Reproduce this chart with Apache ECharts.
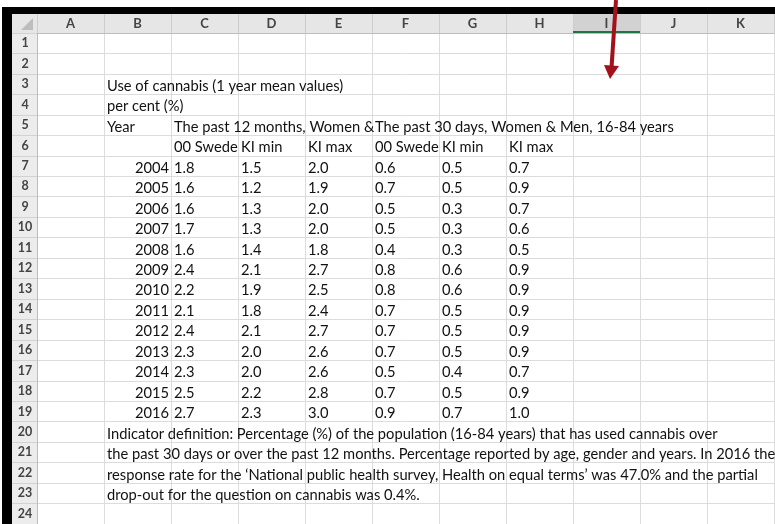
<!DOCTYPE html>
<html>
<head>
<meta charset="utf-8">
<script src="https://cdn.jsdelivr.net/npm/echarts@6/dist/echarts.min.js"></script>
<style>html,body{margin:0;padding:0;background:#fff;}#c{width:775px;height:524px;}</style>
</head>
<body>
<div id="c"></div>
<script>
// ---- data ----
const columnLetters = ['A','B','C','D','E','F','G','H','I','J','K'];
const rowNumbers = ['1','2','3','4','5','6','7','8','9','10','11','12','13','14','15','16','17','18','19','20','21','22','23','24'];
const titleText = 'Use of cannabis (1 year mean values)';
const unitText = 'per cent (%)';
const yearHeader = 'Year';
const group12 = 'The past 12 months, Women & Men, 16-84 years';
const group30 = 'The past 30 days, Women & Men, 16-84 years';
const subHeaders = ['00 Sweden','KI min','KI max','00 Sweden','KI min','KI max'];
const years = [2004,2005,2006,2007,2008,2009,2010,2011,2012,2013,2014,2015,2016];
const past12 =    ['1.8','1.6','1.6','1.7','1.6','2.4','2.2','2.1','2.4','2.3','2.3','2.5','2.7'];
const past12Min = ['1.5','1.2','1.3','1.3','1.4','2.1','1.9','1.8','2.1','2.0','2.0','2.2','2.3'];
const past12Max = ['2.0','1.9','2.0','2.0','1.8','2.7','2.5','2.4','2.7','2.6','2.6','2.8','3.0'];
const past30 =    ['0.6','0.7','0.5','0.5','0.4','0.8','0.8','0.7','0.7','0.7','0.5','0.7','0.9'];
const past30Min = ['0.5','0.5','0.3','0.3','0.3','0.6','0.6','0.5','0.5','0.5','0.4','0.5','0.7'];
const past30Max = ['0.7','0.9','0.7','0.6','0.5','0.9','0.9','0.9','0.9','0.9','0.7','0.9','1.0'];
const noteLines = [
  'Indicator definition: Percentage (%) of the population (16-84 years) that has used cannabis over',
  'the past 30 days or over the past 12 months. Percentage reported by age, gender and years. In 2016 the',
  'response rate for the \u2018National public health survey, Health on equal terms\u2019 was 47.0% and the partial',
  'drop-out for the question on cannabis was 0.4%.'
];

// ---- build cells (col index, row index) ----
const FONT = 'Lato, "Open Sans", sans-serif';
const cells = [];
function put(col, row, text, align, clipCols) { cells.push({col, row, text: String(text), align: align || 'left', clip: clipCols || 0}); }
put(1, 2, titleText);
put(1, 3, unitText);
put(1, 4, yearHeader);
put(2, 4, group12, 'left', 3);
put(5, 4, group30);
subHeaders.forEach((h, i) => put(2 + i, 5, h, 'left', i === 0 || i === 3 ? 1 : 0));
const valueCols = [past12, past12Min, past12Max, past30, past30Min, past30Max];
years.forEach((y, r) => {
  put(1, 6 + r, y, 'right');
  valueCols.forEach((arr, k) => put(2 + k, 6 + r, arr[r]));
});
noteLines.forEach((t, i) => put(1, 19 + i, t));

// measure to fit Calibri-like width
const cv = document.createElement('canvas').getContext('2d');
cv.font = '14px Lato';
const w14 = cv.measureText(noteLines[0]).width;
const FS = Math.round(14 * 610 / w14 * 10) / 10;

const chart = echarts.init(document.getElementById('c'), null, {renderer: 'canvas'});
const GRID = {left: 37, top: 33, width: 737, height: 499.2};

function renderCell(params, api) {
  const cell = cells[params.dataIndex];
  const c = api.coord([api.value(0), api.value(1)]);
  const sz = api.size([1, 1]);
  const left = c[0] - sz[0] / 2;
  const x = cell.align === 'right' ? left + sz[0] - 2 : left + 3;
  const style = {
    text: cell.text, fill: '#111111', fontFamily: FONT, fontSize: FS,
    align: cell.align, verticalAlign: 'middle'
  };
  if (cell.clip) { style.width = sz[0] * cell.clip + 2; style.overflow = 'truncate'; style.ellipsis = ''; }
  return {type: 'text', x: x, y: c[1] + 2, style: style};
}

chart.setOption({
  animation: false,
  backgroundColor: '#ffffff',
  grid: GRID,
  xAxis: {
    type: 'category', data: columnLetters, position: 'top', boundaryGap: true,
    axisLine: {show: true, lineStyle: {color: '#bdbdbd', width: 1}},
    axisTick: {show: true, interval: 0, length: 19, lineStyle: {color: '#cdcdcd'}},
    axisLabel: {interval: 0, color: '#444444', fontFamily: FONT, fontSize: 13, fontWeight: 'bold', margin: 3},
    splitLine: {show: true, interval: 0, lineStyle: {color: '#dcdcdc', width: 1}}
  },
  yAxis: {
    type: 'category', data: rowNumbers, inverse: true, boundaryGap: true,
    axisLine: {show: true, lineStyle: {color: '#bdbdbd', width: 1}},
    axisTick: {show: true, interval: 0, length: 25, lineStyle: {color: '#d2d2d2'}},
    axisLabel: {interval: 0, color: '#444444', fontFamily: FONT, fontSize: 12.5, fontWeight: 'bold', align: 'center', margin: 12},
    splitLine: {show: true, interval: 0, lineStyle: {color: '#dcdcdc', width: 1}}
  },
  series: [{
    type: 'custom', coordinateSystem: 'cartesian2d', clip: false,
    data: cells.map(c => [c.col, c.row]),
    encode: {x: 0, y: 1},
    renderItem: renderCell,
    z: 5
  }]
});

// header decoration computed from axis positions
const iCenter = chart.convertToPixel({xAxisIndex: 0}, 'I');
const colW = GRID.width / columnLetters.length;
chart.setOption({
  graphic: [
    {type: 'rect', z: -10, shape: {x: 12, y: 14, width: 763, height: 19}, style: {fill: '#e6e6e6'}},
    {type: 'rect', z: -10, shape: {x: 12, y: 33, width: 25, height: 491}, style: {fill: '#ececec'}},
    {type: 'rect', z: -9, shape: {x: iCenter - colW / 2, y: 14, width: colW, height: 19}, style: {fill: '#d2d2d2'}},
    {type: 'rect', z: 10, shape: {x: iCenter - colW / 2, y: 31, width: colW, height: 2}, style: {fill: '#217346'}},
    {type: 'polygon', z: 10, shape: {points: [[33, 18], [33, 30], [21, 30]]}, style: {fill: '#bdbdbd'}},
    {type: 'rect', z: 20, shape: {x: 5, y: 7, width: 770, height: 7}, style: {fill: '#000'}},
    {type: 'rect', z: 20, shape: {x: 2, y: 7, width: 10, height: 517}, style: {fill: '#000'}},
    {type: 'line', z: 30, shape: {x1: 616, y1: 0, x2: 611.5, y2: 68}, style: {stroke: '#a3111c', lineWidth: 4}},
    {type: 'polygon', z: 30, shape: {points: [[604, 65], [619, 66], [610, 79]]}, style: {fill: '#a3111c'}}
  ]
});
</script>
</body>
</html>
